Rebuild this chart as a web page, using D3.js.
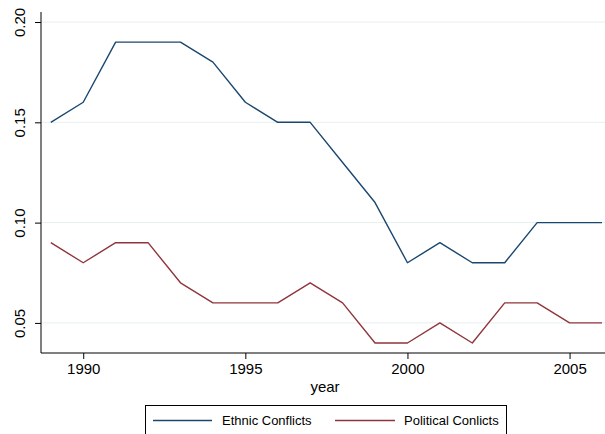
<!DOCTYPE html>
<html>
<head>
<meta charset="utf-8">
<script src="https://cdn.jsdelivr.net/npm/d3@7"></script>
<style>
  html, body { margin: 0; padding: 0; background: #ffffff; }
  svg { display: block; font-family: "Liberation Sans", Arial, Helvetica, sans-serif; }
</style>
</head>
<body>
<svg id="chart" width="605" height="434"></svg>
<script>
// Share of conflicts by year
const years = [1989, 1990, 1991, 1992, 1993, 1994, 1995, 1996, 1997, 1998, 1999, 2000, 2001, 2002, 2003, 2004, 2005, 2006];
const ethnic = [0.15, 0.16, 0.19, 0.19, 0.19, 0.18, 0.16, 0.15, 0.15, 0.13, 0.11, 0.08, 0.09, 0.08, 0.08, 0.10, 0.10, 0.10];
const political = [0.09, 0.08, 0.09, 0.09, 0.07, 0.06, 0.06, 0.06, 0.07, 0.06, 0.04, 0.04, 0.05, 0.04, 0.06, 0.06, 0.05, 0.05];
const xTicks = [1990, 1995, 2000, 2005];
const yTicks = [0.05, 0.10, 0.15, 0.20];
const seriesNames = ["Ethnic Conflicts", "Political Conlicts"];
const seriesColors = ["#1a476f", "#90353b"];

const svg = d3.select("#chart");
const plotLeft = 41, plotRight = 605, plotTop = 12, plotBottom = 353;

const x = d3.scaleLinear().domain([1989, 2006]).range([50.8, 602]);
const y = d3.scaleLinear().domain([0.035, 0.205]).range([plotBottom, plotTop]);

// horizontal grid
svg.append("g").selectAll("line").data(yTicks).join("line")
  .attr("x1", plotLeft).attr("x2", plotRight)
  .attr("y1", d => y(d)).attr("y2", d => y(d))
  .attr("stroke", "#e6eff0").attr("stroke-width", 1);

// y axis
const yAxis = svg.append("g").attr("transform", `translate(${plotLeft},0)`)
  .call(d3.axisLeft(y).tickValues(yTicks).tickFormat(d3.format(".2f")).tickSize(6).tickPadding(5));
yAxis.select(".domain").attr("d", `M0,${plotTop}V${plotBottom}`).attr("stroke", "#000");
yAxis.selectAll(".tick line").attr("stroke", "#000");
yAxis.selectAll(".tick text")
  .attr("font-size", 15).attr("fill", "#000")
  .attr("transform", "rotate(-90)")
  .attr("x", 0).attr("y", -21).attr("dy", "0.35em")
  .attr("text-anchor", "middle");

// x axis
const xAxis = svg.append("g").attr("transform", `translate(0,${plotBottom})`)
  .call(d3.axisBottom(x).tickValues(xTicks).tickFormat(d3.format("d")).tickSize(6).tickPadding(4));
xAxis.select(".domain").attr("d", `M${plotLeft},0H${plotRight}`).attr("stroke", "#000");
xAxis.selectAll(".tick line").attr("stroke", "#000");
xAxis.selectAll(".tick text").attr("font-size", 15).attr("fill", "#000");

svg.append("text").attr("x", 325).attr("y", 392).attr("text-anchor", "middle")
  .attr("font-size", 15).attr("fill", "#000").text("year");

// series lines
const line = d3.line().x((d, i) => x(years[i])).y(d => y(d));
[ethnic, political].forEach((vals, k) => {
  svg.append("path").datum(vals)
    .attr("d", line)
    .attr("fill", "none")
    .attr("stroke", seriesColors[k])
    .attr("stroke-width", 1.4)
    .attr("stroke-linejoin", "round");
});

// legend
const lg = svg.append("g");
lg.append("rect").attr("x", 145.5).attr("y", 405.5).attr("width", 361).attr("height", 40)
  .attr("fill", "#fff").attr("stroke", "#000").attr("stroke-width", 1);
const legendX = [[153, 212, 222], [335, 395, 404]];
seriesNames.forEach((name, k) => {
  const [a, b, t] = legendX[k];
  lg.append("line").attr("x1", a).attr("x2", b).attr("y1", 420.5).attr("y2", 420.5)
    .attr("stroke", seriesColors[k]).attr("stroke-width", 1.4);
  lg.append("text").attr("x", t).attr("y", 420.5).attr("dy", "0.35em")
    .attr("font-size", 13).attr("fill", "#000").text(name);
});
</script>
</body>
</html>
